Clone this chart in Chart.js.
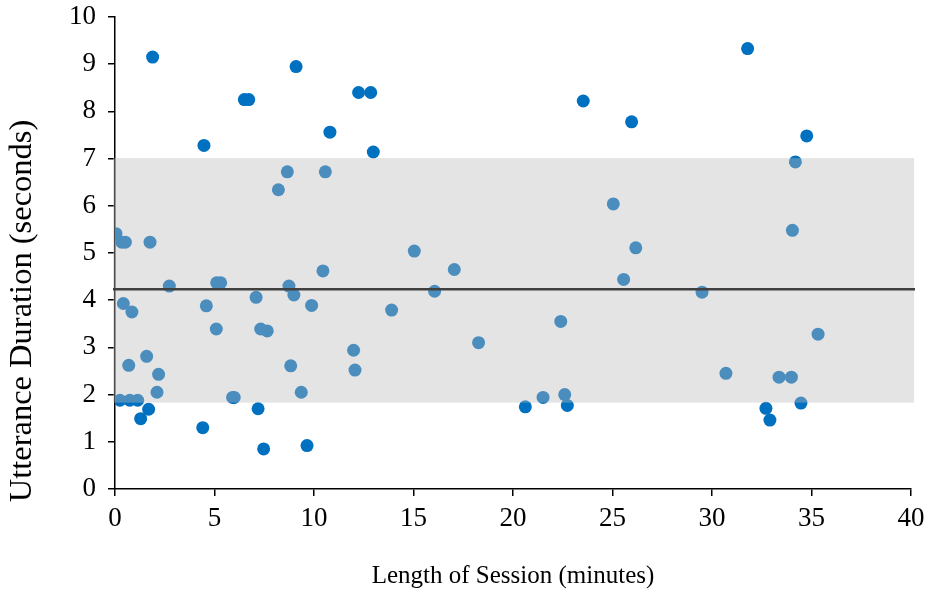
<!DOCTYPE html>
<html>
<head>
<meta charset="utf-8">
<script src="https://cdn.jsdelivr.net/npm/chart.js@4.4.1/dist/chart.umd.min.js"></script>
<style>
  html, body { margin: 0; padding: 0; background: #fff; }
  #wrap { width: 929px; height: 594px; }
</style>
</head>
<body>
<div id="wrap"><canvas id="chart" width="929" height="594"></canvas></div>
<script>
// --- Data ---
const sessionMinutes = [
  0.05, 0.34, 0.52, 1.76, 0.25, 0.74, 1.14, 0.42, 0.85, 0.69,
  1.59, 1.69, 1.29, 1.89, 2.11, 2.19, 2.73, 4.47, 4.41, 4.59,
  5.09, 5.11, 5.31, 5.91, 5.99, 6.50, 6.72, 7.09, 7.19, 7.32,
  7.65, 7.47, 8.21, 8.66, 8.74, 8.83, 8.99, 9.10, 9.36, 9.65,
  9.88, 10.45, 10.57, 10.80, 11.99, 12.06, 12.24, 12.85, 12.98, 13.90,
  15.04, 16.06, 17.05, 18.27, 20.62, 21.51, 22.40, 22.60, 22.73, 23.53,
  25.04, 25.56, 25.96, 26.17, 29.50, 30.70, 31.79, 32.71, 32.91, 33.37,
  33.99, 34.04, 34.19, 34.47, 34.76, 35.33
];
const utteranceSeconds = [
  5.41, 5.23, 5.23, 5.23, 1.88, 1.88, 1.88, 3.93, 3.75, 2.62,
  2.81, 1.69, 1.49, 9.15, 2.05, 2.43, 4.30, 7.28, 1.30, 3.88,
  3.39, 4.37, 4.37, 1.94, 1.94, 8.25, 8.25, 4.06, 1.70, 3.39,
  3.35, 0.85, 6.34, 6.72, 4.30, 2.61, 4.11, 8.95, 2.05, 0.92,
  3.89, 4.62, 6.72, 7.56, 2.94, 2.52, 8.40, 8.40, 7.14, 3.79,
  5.04, 4.19, 4.65, 3.10, 1.74, 1.94, 3.55, 2.00, 1.77, 8.22,
  6.04, 4.44, 7.78, 5.11, 4.17, 2.45, 9.33, 1.71, 1.46, 2.37,
  2.37, 5.48, 6.93, 1.82, 7.48, 3.28
];
const xTicks = [0, 5, 10, 15, 20, 25, 30, 35, 40];
const yTicks = [0, 1, 2, 3, 4, 5, 6, 7, 8, 9, 10];
const bandRange = [1.83, 7.01];   // shaded range
const meanDuration = 4.23;        // horizontal reference line
const yTitle = 'Utterance Duration (seconds)';

const points = sessionMinutes.map((x, i) => ({ x: x, y: utteranceSeconds[i] }));
const serif = '"Liberation Serif", "Times New Roman", serif';

// shaded band + mean line, drawn over the points (band is translucent)
const bandPlugin = {
  id: 'bandPlugin',
  afterDatasetsDraw(chart) {
    const { ctx, chartArea, scales: { y } } = chart;
    const top = y.getPixelForValue(bandRange[1]);
    const bottom = y.getPixelForValue(bandRange[0]);
    ctx.save();
    ctx.fillStyle = 'rgba(187,187,187,0.4)';
    ctx.fillRect(chartArea.left - 2, top, chartArea.right - chartArea.left + 5, bottom - top);
    const my = y.getPixelForValue(meanDuration);
    ctx.strokeStyle = '#404040';
    ctx.lineWidth = 2.5;
    ctx.beginPath();
    ctx.moveTo(chartArea.left - 2, my);
    ctx.lineTo(chartArea.right + 4, my);
    ctx.stroke();
    ctx.restore();
  },
  // y title sits lower than the axis centre in the original
  afterDraw(chart) {
    const { ctx } = chart;
    ctx.save();
    ctx.translate(22, 311);
    ctx.rotate(-Math.PI / 2);
    ctx.font = '32.5px ' + serif;
    ctx.fillStyle = '#000';
    ctx.textAlign = 'center';
    ctx.textBaseline = 'middle';
    ctx.fillText(yTitle, 0, 0);
    ctx.restore();
  }
};

new Chart(document.getElementById('chart'), {
  type: 'scatter',
  data: {
    datasets: [{
      data: points,
      backgroundColor: '#0070C0',
      borderWidth: 0,
      pointRadius: 6.5,
      pointHoverRadius: 6.5
    }]
  },
  options: {
    responsive: false,
    animation: false,
    events: [],
    layout: { padding: { top: 17, right: 18, bottom: 0, left: 0 } },
    plugins: { legend: { display: false }, tooltip: { enabled: false } },
    scales: {
      x: {
        type: 'linear',
        min: 0, max: 40,
        afterBuildTicks: s => { s.ticks = xTicks.map(v => ({ value: v })); },
        afterFit: s => { s.height = 105; s.paddingLeft = 0; s.paddingRight = 0; },
        ticks: { color: '#000', font: { family: serif, size: 27 }, padding: 7, maxRotation: 0 },
        grid: { drawOnChartArea: false, color: '#000', tickLength: 7, lineWidth: 1.5 },
        border: { color: '#000', width: 1.5 },
        title: { display: true, text: 'Length of Session (minutes)', color: '#000',
                 font: { family: serif, size: 25 }, padding: { top: 0, bottom: 3 } }
      },
      y: {
        type: 'linear',
        min: 0, max: 10,
        afterBuildTicks: s => { s.ticks = yTicks.map(v => ({ value: v })); },
        afterFit: s => { s.width = 115; s.paddingTop = 0; s.paddingBottom = 0; },
        ticks: { color: '#000', font: { family: serif, size: 27 }, padding: 12 },
        grid: { drawOnChartArea: false, color: '#000', tickLength: 7, lineWidth: 1.5 },
        border: { color: '#000', width: 1.5 },
        title: { display: false }
      }
    }
  },
  plugins: [bandPlugin]
});
</script>
</body>
</html>
